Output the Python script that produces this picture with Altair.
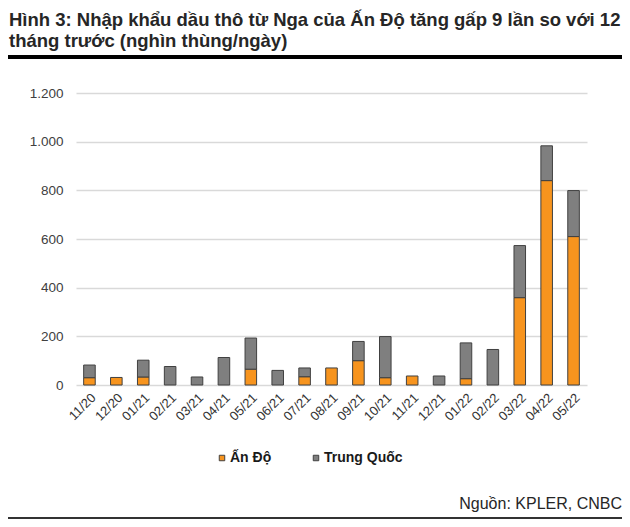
import altair as alt
import pandas as pd

months = ["11/20", "12/20", "01/21", "02/21", "03/21", "04/21", "05/21", "06/21",
          "07/21", "08/21", "09/21", "10/21", "11/21", "12/21", "01/22", "02/22",
          "03/22", "04/22", "05/22"]
an_do = [30, 31, 33, 0, 0, 0, 65, 0, 34, 70, 100, 30, 37, 0, 26, 0, 359, 840, 610]
trung_quoc = [52, 0, 69, 76, 33, 113, 128, 60, 36, 0, 79, 169, 0, 37, 147, 146, 214, 143, 189]
series = ["Ấn Độ", "Trung Quốc"]
colors = ["#F7941E", "#7F7F7F"]

rows = []
for i, m in enumerate(months):
    for k, (name, vals) in enumerate(zip(series, [an_do, trung_quoc])):
        if vals[i] > 0:
            rows.append({"month": m, "series": name, "value": vals[i], "idx": k})
df = pd.DataFrame(rows)

FONT = "Liberation Sans"
W, H = 511, 292

bars = alt.Chart(df).mark_bar(stroke="#404040", strokeWidth=1).encode(
    x=alt.X("month:N", sort=months,
            scale=alt.Scale(paddingInner=0.57, paddingOuter=0.285),
            axis=alt.Axis(title=None, labelAngle=-45, labelFontSize=13,
                          labelColor="#333333", labelFont=FONT, domain=False,
                          ticks=False, labelPadding=6)),
    y=alt.Y("value:Q", stack="zero",
            scale=alt.Scale(domain=[0, 1200], nice=False),
            axis=alt.Axis(title=None, values=[0, 200, 400, 600, 800, 1000, 1200],
                          labelExpr="replace(format(datum.value, ',d'), ',', '.')",
                          labelFontSize=13.5, labelColor="#404040", labelFont=FONT,
                          domain=False, ticks=False, labelPadding=13,
                          grid=True, gridColor="#D9D9D9", gridWidth=1.5)),
    color=alt.Color("series:N", scale=alt.Scale(domain=series, range=colors),
                    legend=alt.Legend(title=None, orient="none", direction="horizontal",
                                      legendX=139, legendY=358, symbolType="square",
                                      symbolSize=30, symbolStrokeColor="#404040",
                                      symbolStrokeWidth=1, labelFont=FONT,
                                      labelFontSize=14, labelFontWeight="bold",
                                      labelColor="#1A1A1A", columnPadding=37,
                                      labelOffset=1, padding=0)),
    order=alt.Order("idx:Q", sort="ascending"),
)

one = alt.Data(values=[{}])

top_rule = alt.Chart(one).mark_rule(color="#000000", strokeWidth=4).encode(
    x=alt.value(-68), x2=alt.value(546), y=alt.value(-36))
bottom_rule = alt.Chart(one).mark_rule(color="#333333", strokeWidth=2).encode(
    x=alt.value(-68), x2=alt.value(546), y=alt.value(425))
source = alt.Chart(one).mark_text(
    text="Nguồn: KPLER, CNBC", font=FONT, fontSize=16, color="#262626",
    align="right", baseline="alphabetic").encode(x=alt.value(546), y=alt.value(416))

chart = alt.layer(bars, top_rule, bottom_rule, source).properties(
    width=W, height=H,
    title=alt.Title(
        text=["Hình 3: Nhập khẩu dầu thô từ Nga của Ấn Độ tăng gấp 9 lần so với 12",
              "tháng trước (nghìn thùng/ngày)"],
        anchor="start", frame="group", dx=-67, dy=31, fontSize=18.5, fontWeight="bold",
        font=FONT, color="#262626", lineHeight=20.5, offset=36),
    autosize=alt.AutoSizeParams(type="none"),
    padding={"left": 68, "top": 85, "right": 35, "bottom": 134},
).configure_view(stroke=None)

chart.save("out.html", embed_options={"renderer": "svg", "actions": False})
